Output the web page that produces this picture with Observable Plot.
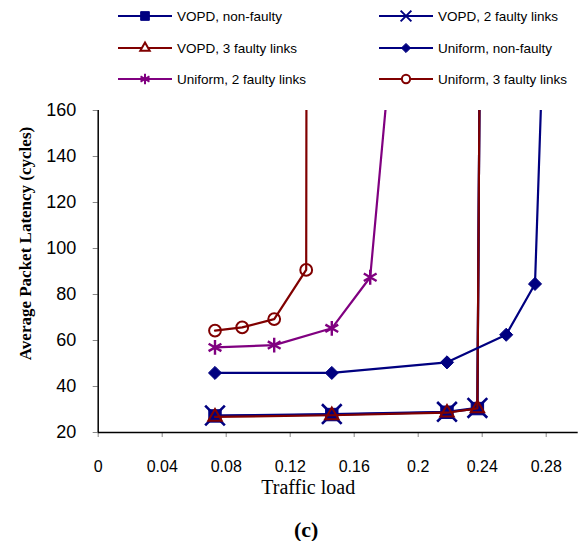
<!DOCTYPE html>
<html>
<head>
<meta charset="utf-8">
<script src="https://cdn.jsdelivr.net/npm/d3@7"></script>
<script src="https://cdn.jsdelivr.net/npm/@observablehq/plot@0.6"></script>
<style>
  html, body { margin: 0; padding: 0; background: #fff; }
  #legend { display: block; }
</style>
</head>
<body>
<svg id="legend" width="580" height="100"></svg>
<div id="chart"></div>
<script>
// ---- data ----
const seriesNames = ["VOPD, non-faulty", "VOPD, 2 faulty links", "VOPD, 3 faulty links",
                     "Uniform, non-faulty", "Uniform, 2 faulty links", "Uniform, 3 faulty links"];
const seriesColors = ["#000080", "#000080", "#800000", "#000080", "#800080", "#800000"];
const seriesSymbols = ["square", "times", "triangle", "diamond2", "asterisk", "circle"];

const vopdNonFaultyX = [0.073, 0.146, 0.218, 0.237, 0.2405];
const vopdNonFaultyY = [27.2, 27.8, 28.8, 30.4, 400];
const vopd2FaultyX   = [0.073, 0.146, 0.218, 0.237, 0.2405];
const vopd2FaultyY   = [27.4, 28.0, 29.0, 30.7, 400];
const vopd3FaultyX   = [0.073, 0.146, 0.218, 0.237, 0.2405];
const vopd3FaultyY   = [26.8, 27.5, 28.6, 30.5, 400];
const uniformNonX    = [0.073, 0.146, 0.218, 0.255, 0.273, 0.28];
const uniformNonY    = [45.9, 45.9, 50.5, 62.5, 84.6, 230];
const uniform2X      = [0.073, 0.11, 0.146, 0.17, 0.19];
const uniform2Y      = [57, 58, 65.3, 87.5, 240];
const uniform3X      = [0.073, 0.09, 0.11, 0.13, 0.1306];
const uniform3Y      = [64.3, 65.7, 69.3, 90.7, 400];

const xTicks = [0, 0.04, 0.08, 0.12, 0.16, 0.2, 0.24, 0.28];
const yTicks = [20, 40, 60, 80, 100, 120, 140, 160];

const allX = [vopdNonFaultyX, vopd2FaultyX, vopd3FaultyX, uniformNonX, uniform2X, uniform3X];
const allY = [vopdNonFaultyY, vopd2FaultyY, vopd3FaultyY, uniformNonY, uniform2Y, uniform3Y];

const symbolMap = {
  square: d3.symbolSquare, times: d3.symbolTimes, triangle: d3.symbolTriangle,
  diamond2: d3.symbolDiamond2, asterisk: d3.symbolAsterisk, circle: d3.symbolCircle
};
const symbolR = { square: 7, times: 9, triangle: 5, diamond2: 5.9, asterisk: 7, circle: 5.9 };
const symbolW = { square: 1, times: 2.6, triangle: 2, diamond2: 1, asterisk: 2.4, circle: 2 };
const filled = { square: true, diamond2: true };

function dotStyle(sym, color) {
  return filled[sym]
    ? { fill: color, stroke: color, strokeWidth: symbolW[sym] }
    : { fill: "none", stroke: color, strokeWidth: symbolW[sym] };
}

// ---- legend ----
const legend = d3.select("#legend");
const legendCols = [118, 379];
const legendRows = [16, 48, 79];
seriesNames.forEach((name, i) => {
  const col = i % 2, row = Math.floor(i / 2);
  const x0 = legendCols[col], y0 = legendRows[row];
  const color = seriesColors[i], sym = seriesSymbols[i];
  legend.append("line").attr("x1", x0).attr("x2", x0 + 54).attr("y1", y0).attr("y2", y0)
    .attr("stroke", color).attr("stroke-width", 2.2);
  const st = dotStyle(sym, color);
  const r = symbolR[sym] * (sym === "times" ? 0.55 : 0.7);
  legend.append("path")
    .attr("d", d3.symbol(symbolMap[sym], r * r * Math.PI)())
    .attr("transform", `translate(${x0 + 27},${y0})`)
    .attr("fill", st.fill === "none" ? "white" : st.fill).attr("stroke", st.stroke)
    .attr("stroke-width", Math.min(st.strokeWidth, 2));
  legend.append("text").attr("x", x0 + 59).attr("y", y0).attr("dy", "0.36em")
    .attr("font-family", "Liberation Sans, Arial, sans-serif").attr("font-size", 13.5)
    .text(name);
});

// ---- chart ----
const marks = [];
allX.forEach((xs, i) => {
  const rows = xs.map((x, j) => ({ x, y: allY[i][j] }));
  const sym = seriesSymbols[i], color = seriesColors[i];
  marks.push(Plot.line(rows, { x: "x", y: "y", stroke: color, strokeWidth: 2.2, clip: true }));
  marks.push(Plot.dot(rows.filter(d => d.y <= 160), {
    x: "x", y: "y", symbol: () => sym, r: symbolR[sym], ...dotStyle(sym, color)
  }));
});

const chart = Plot.plot({
  width: 580,
  height: 441,
  marginTop: 10,
  marginBottom: 109,
  marginLeft: 97.7,
  marginRight: 2.3,
  x: { domain: [0, 0.3] },
  y: { domain: [20, 160] },
  symbol: { type: "identity" },
  style: { fontFamily: "Liberation Sans, Arial, sans-serif", background: "white", overflow: "visible", color: "#000" },
  marks: [
    Plot.axisY({ ticks: yTicks, tickSize: 5, tickPadding: 17, fontSize: 18, stroke: "#888", fill: "#000", label: null }),
    Plot.axisX({ ticks: xTicks, tickSize: 5, tickPadding: 23, fontSize: 16, stroke: "#888", fill: "#000", label: null,
                 tickFormat: d => String(+d.toFixed(2)) }),
    Plot.ruleX([0], { stroke: "#000", strokeWidth: 1.5 }),
    Plot.ruleY([20], { stroke: "#000", strokeWidth: 1.5 }),
    ...marks,
    Plot.text(["Average Packet Latency (cycles)"], { frameAnchor: "left", rotate: -90, dx: -73, dy: -28,
      textAnchor: "middle", lineAnchor: "middle",
      fontFamily: "Liberation Serif, Times New Roman, serif", fontWeight: "bold", fontSize: 17, fill: "#000" }),
    Plot.text(["Traffic load"], { frameAnchor: "bottom", dx: -30, dy: 55,
      textAnchor: "middle", lineAnchor: "middle",
      fontFamily: "Liberation Serif, Times New Roman, serif", fontSize: 20, fill: "#000" }),
    Plot.text(["(c)"], { frameAnchor: "bottom", dx: -32, dy: 97,
      textAnchor: "middle", lineAnchor: "middle",
      fontFamily: "Liberation Serif, Times New Roman, serif", fontWeight: "bold", fontSize: 22, fill: "#000" })
  ]
});
document.getElementById("chart").appendChild(chart);
</script>
</body>
</html>
